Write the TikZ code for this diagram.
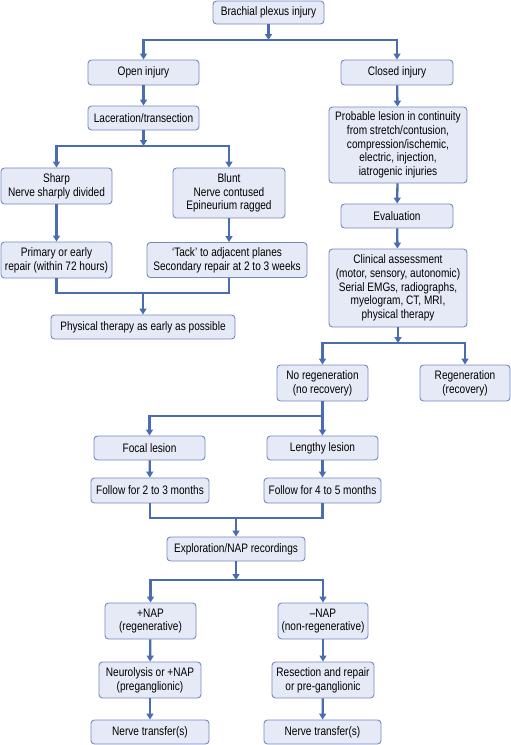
\documentclass[tikz,border=0pt]{standalone}
\usepackage{fontspec}
\setmainfont{Liberation Sans}[FakeStretch=0.82]
\usetikzlibrary{arrows.meta,calc}
\definecolor{boxfill}{HTML}{E6EAF6}
\definecolor{boxdraw}{HTML}{7489C2}
\definecolor{linecol}{HTML}{4A6CB2}
\begin{document}
\begin{tikzpicture}[x=1pt,y=-1pt,
  bx/.style={draw=boxdraw,fill=boxfill,line width=0.9pt,rounded corners=3.5pt,
    align=center,inner sep=0pt,font=\fontsize{12.3}{13.7}\selectfont},
  ln/.style={draw=linecol,line width=2.3pt},
  ar/.style={ln,-{Triangle[length=6pt,width=7pt]}}]
\useasboundingbox (0,0) rectangle (511,745);
\newcommand{\bxat}[6]{\node[bx,minimum width=#4,minimum height=#5] (#1) at (#2,#3) {#6};}
\bxat{top}{268.5}{12.5}{111}{23}{Brachial plexus injury}
\bxat{open}{143.5}{72.5}{111}{25}{Open injury}
\bxat{closed}{397}{72.5}{112}{25}{Closed injury}
\bxat{lac}{143.5}{118}{111}{24}{Laceration/transection}
\bxat{prob}{398}{145}{138}{76}{Probable lesion in continuity\\from stretch/contusion,\\compression/ischemic,\\electric, injection,\\iatrogenic injuries}
\bxat{sharp}{56.5}{186}{111}{36}{Sharp\\Nerve sharply divided}
\bxat{blunt}{229}{193}{112}{50}{Blunt\\Nerve contused\\Epineurium ragged}
\bxat{primary}{56.5}{260}{111}{36}{Primary or early\\repair (within 72 hours)}
\bxat{tack}{227}{260}{160}{35}{`Tack' to adjacent planes\\Secondary repair at 2 to 3 weeks}
\bxat{pt}{143}{327}{184}{24}{Physical therapy as early as possible}
\bxat{eval}{397}{216}{112}{24}{Evaluation}
\bxat{clin}{398}{288}{138}{78}{Clinical assessment\\(motor, sensory, autonomic)\\Serial EMGs, radiographs,\\myelogram, CT, MRI,\\physical therapy}
\bxat{noreg}{322.5}{383}{91}{36}{No regeneration\\(no recovery)}
\bxat{reg}{465}{383}{90}{36}{Regeneration\\(recovery)}
\bxat{focal}{149.5}{448}{111}{24}{Focal lesion}
\bxat{lengthy}{322.5}{448}{111}{24}{Lengthy lesion}
\bxat{f23}{150}{490.5}{118}{25}{Follow for 2 to 3 months}
\bxat{f45}{322.5}{490.5}{117}{25}{Follow for 4 to 5 months}
\bxat{expl}{236}{549}{138}{24}{Exploration/NAP recordings}
\bxat{pnap}{150.5}{621}{91}{36}{+NAP\\(regenerative)}
\bxat{mnap}{323}{621}{90}{36}{--NAP\\(non-regenerative)}
\bxat{neur}{150}{680}{102}{36}{Neurolysis or +NAP\\(preganglionic)}
\bxat{resec}{323}{680}{102}{36}{Resection and repair\\or pre-ganglionic}
\bxat{nt1}{150}{732}{118}{24}{Nerve transfer(s)}
\bxat{nt2}{322.5}{732}{117}{24}{Nerve transfer(s)}
% connectors
\coordinate (b1) at (268.5,40);
\draw[ar] (top) -- (b1);
\draw[ar] (b1) -| (open);
\draw[ar] (b1) -| (closed);
\draw[ar] (open) -- (lac);
\coordinate (b2) at (143.5,146);
\draw[ar] (lac) -- (b2);
\draw[ar] (b2) -| (sharp);
\draw[ar] (b2) -| (blunt);
\draw[ar] (sharp) -- (primary);
\draw[ar] (blunt.south) -- (blunt.south |- tack.north);
\coordinate (m1) at (143,293);
\draw[ln] (primary.south) |- (blunt.south |- m1) -- (blunt.south |- tack.south);
\draw[ar] (m1) -- (pt);
\draw[ar] (closed) -- (prob);
\draw[ar] (prob) -- (eval);
\draw[ar] (eval) -- (clin);
\coordinate (b3) at (398,343);
\draw[ar] (clin) -- (b3);
\draw[ar] (b3) -| (noreg);
\draw[ar] (b3) -| (reg);
\coordinate (b4) at (322.5,416);
\draw[ar] (noreg) -- (lengthy);
\draw[ar] (b4) -| (focal);
\draw[ar] (focal) -- (f23);
\draw[ar] (lengthy) -- (f45);
\coordinate (m2) at (236,518);
\draw[ln] (f23.south) |- (m2) -| (f45.south);
\draw[ar] (m2) -- (expl);
\coordinate (b5) at (236,580);
\draw[ar] (expl) -- (b5);
\draw[ar] (b5) -| (pnap);
\draw[ar] (b5) -| (mnap);
\draw[ar] (pnap) -- (neur);
\draw[ar] (neur) -- (nt1);
\draw[ar] (mnap) -- (resec);
\draw[ar] (resec) -- (nt2);
\end{tikzpicture}
\end{document}
